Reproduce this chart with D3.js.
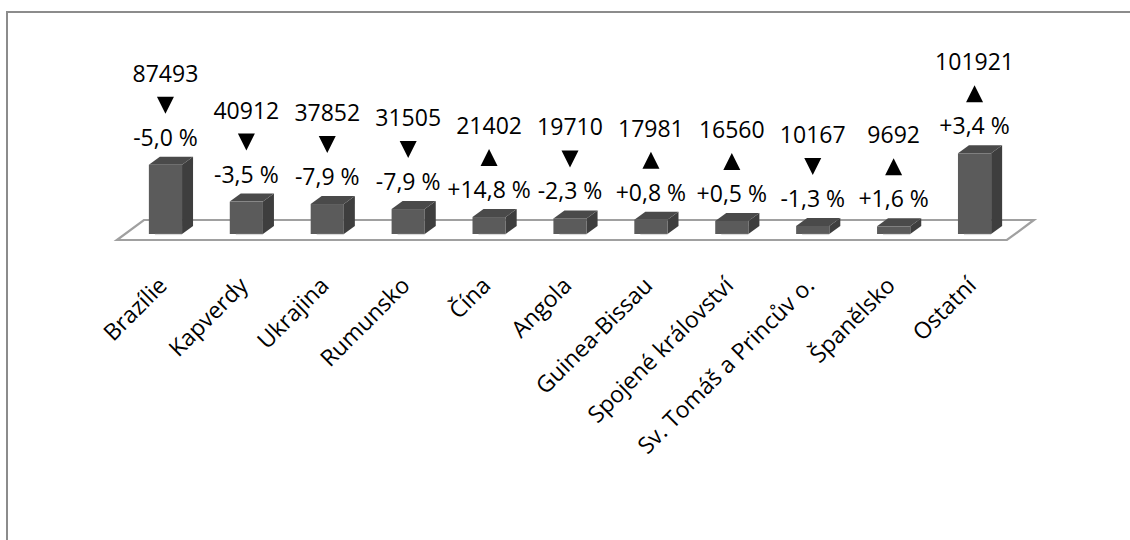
<!DOCTYPE html>
<html>
<head>
<meta charset="utf-8">
<script src="https://cdn.jsdelivr.net/npm/d3@7"></script>
<style>
  html, body { margin: 0; background: #fff; overflow: hidden; }
  svg { display: block; }
  text { font-family: 'Open Sans', sans-serif; fill: #000; }
</style>
</head>
<body>
<div id="chart-area"></div>
<script>
// DATA
const categories = ['Brazílie', 'Kapverdy', 'Ukrajina', 'Rumunsko', 'Čína', 'Angola',
                    'Guinea-Bissau', 'Spojené království', 'Sv. Tomáš a Princův o.', 'Španělsko', 'Ostatní']
const values = [87493, 40912, 37852, 31505, 21402, 19710, 17981, 16560, 10167, 9692, 101921]
const changes = [-5.0, -3.5, -7.9, -7.9, 14.8, -2.3, 0.8, 0.5, -1.3, 1.6, 3.4]
const yDomain = [0, 120000]

// LAYOUT
const W = 1130
const H = 540
const baseY = 234          // bottom of bars (front face)
const barH = 95            // pixel height for yDomain max
const depth = { dx: 11, dy: -8 }      // bar depth offset
const floor = { front: 6, back: 14, slope: 27 / 20 }

const svg = d3.select('#chart-area')
              .append('svg')
              .attr('width', W)
              .attr('height', H)

// FRAME (only top and left edges are inside the picture)
svg.append('path')
   .attr('d', 'M7,' + H + 'V12H' + W)
   .attr('fill', 'none')
   .attr('stroke', '#8c8c8c')
   .attr('stroke-width', 2)

// SCALES
const x = d3.scaleBand()
            .domain(categories)
            .range([125, 1015])
            .paddingInner(0.59)
            .paddingOuter(0.295)

const y = d3.scaleLinear()
            .domain(yDomain)
            .range([baseY, baseY - barH])

// FLOOR
const [r0, r1] = x.range()
const fy = baseY + floor.front
const by = baseY - floor.back
const floorPts = [
    [r0 - floor.front * floor.slope, fy],
    [r1 - floor.front * floor.slope, fy],
    [r1 + floor.back * floor.slope, by],
    [r0 + floor.back * floor.slope, by]
]
svg.append('path')
   .attr('d', d3.line()(floorPts) + 'Z')
   .attr('fill', '#fff')
   .attr('stroke', '#a0a0a0')
   .attr('stroke-width', 2.2)

// BARS
const data = categories.map((c, i) => ({ cat: c, value: values[i], change: changes[i] }))

const bars = svg.append('g')
                .selectAll('g')
                .data(data)
                .enter()
                .append('g')

bars.each(function (d) {
    const g = d3.select(this)
    const x0 = x(d.cat)
    const x1 = x0 + x.bandwidth()
    const yt = y(d.value)
    const { dx, dy } = depth

    // side
    g.append('path')
     .attr('d', d3.line()([[x1, yt], [x1 + dx, yt + dy], [x1 + dx, baseY + dy], [x1, baseY]]) + 'Z')
     .attr('fill', '#3e3e3e')
    // top
    g.append('path')
     .attr('d', d3.line()([[x0, yt], [x0 + dx, yt + dy], [x1 + dx, yt + dy], [x1, yt]]) + 'Z')
     .attr('fill', '#4a4a4a')
    // front
    g.append('rect')
     .attr('x', x0)
     .attr('y', yt)
     .attr('width', x.bandwidth())
     .attr('height', baseY - yt)
     .attr('fill', '#5b5b5b')
    // light edge under the bar
    g.append('line')
     .attr('x1', x0 + 6).attr('x2', x1)
     .attr('y1', baseY + 0.5).attr('y2', baseY + 0.5)
     .attr('stroke', '#d8d8d8')
     .attr('stroke-width', 1.2)
})

// DATA LABELS
const fmt = v => (v > 0 ? '+' : v < 0 ? '-' : '') + Math.abs(v).toFixed(1).replace('.', ',') + ' %'

bars.each(function (d) {
    const g = d3.select(this)
    const cx = x(d.cat) + x.bandwidth() / 2
    const p = y(d.value) + depth.dy - 11
    const b1 = p - 32

    g.append('text')
     .attr('x', cx)
     .attr('y', p - 64)
     .attr('text-anchor', 'middle')
     .attr('font-size', '23px')
     .text(d.value)

    const tw = 8.5
    const th = 17
    const tri = d.change >= 0
        ? [[cx - tw, b1], [cx + tw, b1], [cx, b1 - th]]
        : [[cx - tw, b1 - th], [cx + tw, b1 - th], [cx, b1]]
    g.append('path')
     .attr('d', d3.line()(tri) + 'Z')
     .attr('fill', '#000')

    g.append('text')
     .attr('x', cx)
     .attr('y', p)
     .attr('text-anchor', 'middle')
     .attr('font-size', '23px')
     .text(fmt(d.change))
})

// CATEGORY LABELS
svg.append('g')
   .selectAll('text')
   .data(categories)
   .enter()
   .append('text')
   .attr('text-anchor', 'end')
   .attr('font-size', '23px')
   .attr('transform', d => 'translate(' + (x(d) + x.bandwidth() / 2 + 3) + ',287) rotate(-45)')
   .text(d => d)
</script>
</body>
</html>
